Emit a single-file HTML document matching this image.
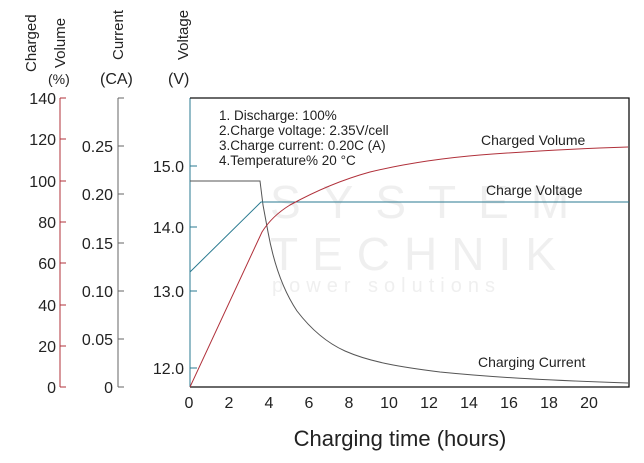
<!DOCTYPE html>
<html><head><meta charset="utf-8"><style>
body{margin:0;background:#fff;width:644px;height:458px;overflow:hidden}
svg text{font-family:"Liberation Sans",sans-serif;fill:#222}
</style></head><body>
<svg width="644" height="458" viewBox="0 0 644 458" xmlns="http://www.w3.org/2000/svg">
<g opacity="0.9">
<text x="270" y="218" style="fill:#eee;letter-spacing:22px" font-size="46">SYSTEM</text>
<text x="270" y="270" style="fill:#eee;letter-spacing:14px" font-size="46">TECHNIK</text>
<text x="272" y="292" style="fill:#eee;letter-spacing:6px" font-size="20">power solutions</text>
</g>
<g font-size="15">
<text transform="translate(36,72) rotate(-90)">Charged</text>
<text transform="translate(65,68) rotate(-90)">Volume</text>
<text x="48" y="84" font-size="14">(%)</text>
<text transform="translate(123,60) rotate(-90)">Current</text>
<text x="100" y="84" font-size="16">(CA)</text>
<text transform="translate(188,60) rotate(-90)">Voltage</text>
<text x="168" y="84" font-size="16">(V)</text>
</g>
<g stroke="#b0303a" stroke-width="1" fill="none">
<line x1="60" y1="98" x2="60" y2="387"/>
<path d="M60 98h6M60 139h6M60 181h6M60 222h6M60 263h6M60 305h6M60 346h6M60 387h6"/>
</g>
<g font-size="16" text-anchor="end">
<text x="56" y="104">140</text><text x="56" y="145">120</text><text x="56" y="187">100</text>
<text x="56" y="228">80</text><text x="56" y="269">60</text><text x="56" y="311">40</text>
<text x="56" y="352">20</text><text x="56" y="393">0</text>
</g>
<g stroke="#666" stroke-width="1" fill="none">
<line x1="118" y1="98" x2="118" y2="387"/>
<path d="M118 98h6M118 146h6M118 194h6M118 243h6M118 291h6M118 339h6M118 387h6"/>
</g>
<g font-size="16" text-anchor="end">
<text x="113" y="152">0.25</text><text x="113" y="200">0.20</text><text x="113" y="249">0.15</text>
<text x="113" y="297">0.10</text><text x="113" y="345">0.05</text><text x="113" y="393">0</text>
</g>
<g stroke="#2a7a90" stroke-width="1" fill="none">
<line x1="190" y1="98" x2="190" y2="387"/>
<path d="M190 166h7M190 227h7M190 291h7M190 368h7"/>
</g>
<g font-size="16" text-anchor="end">
<text x="184" y="172">15.0</text><text x="184" y="233">14.0</text>
<text x="184" y="297">13.0</text><text x="184" y="374">12.0</text>
</g>
<path d="M190 98H629V387H190" fill="none" stroke="#111" stroke-width="1.3"/>
<g font-size="16" text-anchor="middle">
<text x="189" y="408">0</text><text x="229" y="408">2</text><text x="269" y="408">4</text>
<text x="309" y="408">6</text><text x="349" y="408">8</text><text x="389" y="408">10</text>
<text x="429" y="408">12</text><text x="469" y="408">14</text><text x="509" y="408">16</text>
<text x="549" y="408">18</text><text x="589" y="408">20</text>
</g>
<text x="400" y="446" font-size="22" text-anchor="middle">Charging time (hours)</text>
<g font-size="13.5">
<text x="219" y="120">1. Discharge: 100%</text>
<text x="219" y="135">2.Charge voltage: 2.35V/cell</text>
<text x="219" y="150">3.Charge current: 0.20C (A)</text>
<text x="219" y="165">4.Temperature% 20 °C</text>
</g>
<g font-size="14">
<text x="481" y="145">Charged Volume</text>
<text x="486" y="195">Charge Voltage</text>
<text x="478" y="367">Charging Current</text>
</g>
<path d="M190 181H260L263 205L268 232C274 265 283 290 297 311C310 328 325 342 345 351C370 362 400 367 440 372C490 377 540 380 628 383" fill="none" stroke="#555" stroke-width="1"/>
<path d="M190 272L261 202H629" fill="none" stroke="#2a7a90" stroke-width="1"/>
<path d="M190 387L262 232Q272 216 290 205Q330 183 370 172Q420 160 480 155Q560 149 628 147" fill="none" stroke="#b0303a" stroke-width="1"/>
</svg>
</body></html>
